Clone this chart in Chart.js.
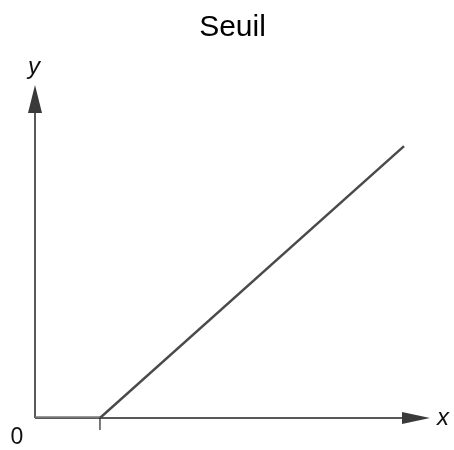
<!DOCTYPE html>
<html>
<head>
<meta charset="utf-8">
<script src="https://cdn.jsdelivr.net/npm/chart.js@4"></script>
<style>
  html, body { margin: 0; padding: 0; background: #fff; }
  #wrap { width: 454px; height: 450px; }
</style>
</head>
<body>
<div id="wrap"><canvas id="seuilChart" width="454" height="450"></canvas></div>
<script>
// threshold function: zero up to the threshold, then linear
const seuil = 1;
const xValues = [0, seuil, 5.68];
const yValues = [0, 0, 4.18];
const xMax = 6.08;
const yMax = 5.12;
const axisNames = ["x", "y"];
const originLabel = "0";

const points = xValues.map((x, i) => ({ x: x, y: yValues[i] }));

// axes with arrowheads, threshold tick and axis names
const axesPlugin = {
    id: "axes",
    beforeDatasetsDraw(chart) {
        const ctx = chart.ctx;
        const xs = chart.scales.x;
        const ys = chart.scales.y;
        const ox = xs.getPixelForValue(0);
        const oy = ys.getPixelForValue(0);
        const right = xs.getPixelForValue(xMax);
        const top = ys.getPixelForValue(yMax);
        const sx = xs.getPixelForValue(seuil);

        ctx.save();
        ctx.strokeStyle = "#222";
        ctx.lineWidth = 1.5;
        ctx.beginPath();
        ctx.moveTo(ox, oy);
        ctx.lineTo(ox, top + 20);
        ctx.moveTo(ox, oy);
        ctx.lineTo(right - 20, oy);
        ctx.stroke();

        ctx.lineWidth = 1.2;
        ctx.beginPath();
        ctx.moveTo(sx, oy);
        ctx.lineTo(sx, oy + 12);
        ctx.stroke();

        ctx.fillStyle = "#3a3a3a";
        ctx.beginPath();
        ctx.moveTo(ox, top);
        ctx.lineTo(ox - 7, top + 28);
        ctx.lineTo(ox + 7, top + 28);
        ctx.closePath();
        ctx.fill();

        ctx.beginPath();
        ctx.moveTo(right, oy);
        ctx.lineTo(right - 28, oy - 6);
        ctx.lineTo(right - 28, oy + 6);
        ctx.closePath();
        ctx.fill();

        ctx.fillStyle = "#111";
        ctx.textAlign = "center";
        ctx.textBaseline = "middle";
        ctx.font = "italic 24px 'Liberation Sans', Arial, sans-serif";
        ctx.fillText(axisNames[1], ox - 1, top - 18);
        ctx.fillText(axisNames[0], right + 13, oy);
        ctx.font = "23px 'Liberation Sans', Arial, sans-serif";
        ctx.fillText(originLabel, ox - 18, oy + 20);
        ctx.restore();
    }
};

new Chart(document.getElementById("seuilChart"), {
    type: "scatter",
    data: {
        datasets: [{
            data: points,
            showLine: true,
            pointRadius: 0,
            borderColor: "#4a4a4a",
            borderWidth: 2.5,
            segment: {
                borderColor: c => c.p0.parsed.y === 0 && c.p1.parsed.y === 0 ? "#777" : "#4a4a4a",
                borderWidth: c => c.p0.parsed.y === 0 && c.p1.parsed.y === 0 ? 3.5 : 2.5
            }
        }]
    },
    options: {
        responsive: false,
        animation: false,
        layout: { padding: { left: 35, right: 24, top: 0, bottom: 32 } },
        scales: {
            x: { type: "linear", min: 0, max: xMax, display: false },
            y: { type: "linear", min: 0, max: yMax, display: false }
        },
        plugins: {
            legend: { display: false },
            tooltip: { enabled: false },
            title: {
                display: true,
                text: "Seuil",
                color: "#000",
                font: { family: "'Liberation Sans', Arial, sans-serif", size: 30, weight: "normal" },
                padding: { top: 10, bottom: 39 }
            }
        }
    },
    plugins: [axesPlugin]
});
</script>
</body>
</html>
